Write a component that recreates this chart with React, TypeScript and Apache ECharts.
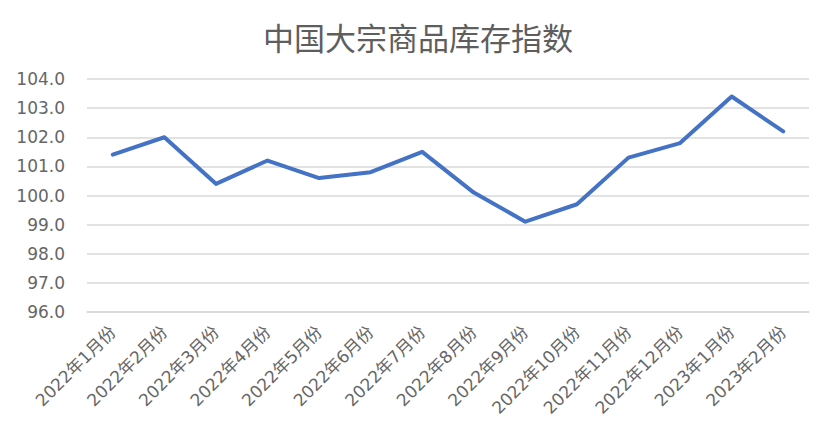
import React, { useEffect, useRef } from "react";
import * as echarts from "echarts";

const categories = [
  "2022年1月份", "2022年2月份", "2022年3月份", "2022年4月份", "2022年5月份",
  "2022年6月份", "2022年7月份", "2022年8月份", "2022年9月份", "2022年10月份",
  "2022年11月份", "2022年12月份", "2023年1月份", "2023年2月份",
];
const indexValues = [101.4, 102.0, 100.4, 101.2, 100.6, 100.8, 101.5, 100.1, 99.1, 99.7, 101.3, 101.8, 103.4, 102.2];
const titleText = "中国大宗商品库存指数";

export default function App() {
  const ref = useRef<HTMLDivElement>(null);
  useEffect(() => {
    if (!ref.current) return;
    const chart = echarts.init(ref.current, undefined, { renderer: "svg" });
    chart.setOption({
      animation: false,
      backgroundColor: "#ffffff",
      title: {
        text: titleText,
        left: "center",
        top: 16,
        textStyle: { fontFamily: "Noto Sans CJK SC", fontSize: 31, fontWeight: "normal", color: "#5e5e5e" },
      },
      grid: { left: 87, right: 27, top: 79, bottom: 122, containLabel: false },
      xAxis: {
        type: "category",
        data: categories,
        boundaryGap: true,
        axisLine: { show: true, lineStyle: { color: "#d9d9d9", width: 1.5 } },
        axisTick: { show: false },
        axisLabel: {
          rotate: 45,
          interval: 0,
          margin: 17,
          fontFamily: "DejaVu Sans, Noto Sans CJK SC",
          fontSize: 17,
          color: "#666666",
        },
      },
      yAxis: {
        type: "value",
        min: 96,
        max: 104,
        interval: 1,
        axisLine: { show: false },
        axisTick: { show: false },
        splitLine: { lineStyle: { color: "#d9d9d9", width: 1.5 } },
        axisLabel: {
          formatter: (v: number) => v.toFixed(1),
          margin: 22,
          fontFamily: "DejaVu Sans",
          fontSize: 17,
          color: "#666666",
        },
      },
      series: [
        {
          type: "line",
          data: indexValues,
          symbol: "none",
          lineStyle: { color: "#4472C4", width: 4, cap: "round", join: "round" },
        },
      ],
    });
    return () => chart.dispose();
  }, []);
  return (
    <div style={{ position: "fixed", left: 0, top: 0, width: 836, height: 434, boxSizing: "border-box", border: "2px solid #d9d9d9", background: "#fff" }}>
      <div ref={ref} style={{ position: "absolute", left: -2, top: -2, width: 836, height: 434 }} />
    </div>
  );
}
